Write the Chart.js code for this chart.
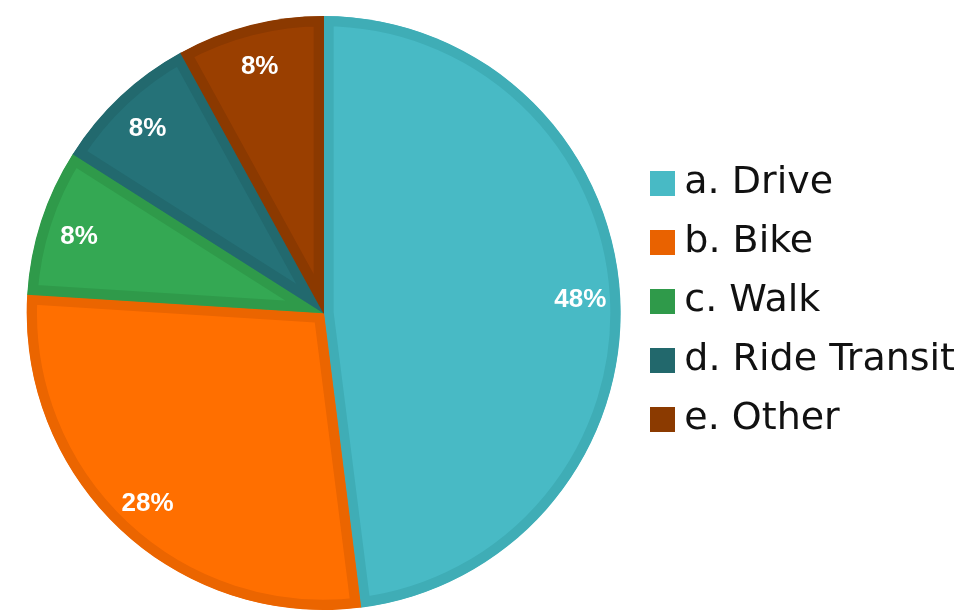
<!DOCTYPE html>
<html>
<head>
<meta charset="utf-8">
<script src="https://cdn.jsdelivr.net/npm/chart.js@4.4.1/dist/chart.umd.min.js"></script>
<style>
  html, body { margin: 0; padding: 0; background: #fff; }
  #wrap { width: 963px; height: 612px; position: relative; }
</style>
</head>
<body>
<div id="wrap"><canvas id="modeChart"></canvas></div>
<script>
// categories and values (percent)
const categories = ['a. Drive', 'b. Bike', 'c. Walk', 'd. Ride Transit', 'e. Other'];
const shares = [48, 28, 8, 8, 8];

// slice colours
const fillColors = ['#48BAC5', '#FF6F00', '#34A853', '#257278', '#9A3F00'];
const edgeColors = ['#3FADB6', '#EB6500', '#2F9A4A', '#22696E', '#8B3900'];
const legendColors = ['#48BAC5', '#E96200', '#2F9A4A', '#22686C', '#8B3A00'];

// square swatch for the legend (drawn as a point style image)
function swatch(color) {
  const c = document.createElement('canvas');
  c.width = 25;
  c.height = 25;
  const g = c.getContext('2d');
  g.fillStyle = color;
  g.fillRect(0, 0, 25, 25);
  return c;
}

// percent labels inside the slices
const sliceLabels = {
  id: 'sliceLabels',
  afterDatasetsDraw(chart) {
    const { ctx } = chart;
    const meta = chart.getDatasetMeta(0);
    const total = shares.reduce((a, b) => a + b, 0);
    ctx.save();
    ctx.fillStyle = '#fff';
    ctx.font = 'bold 26px "Liberation Sans", Arial, sans-serif';
    ctx.textAlign = 'center';
    ctx.textBaseline = 'middle';
    meta.data.forEach((arc, i) => {
      const p = arc.getProps(['x', 'y', 'startAngle', 'endAngle', 'outerRadius'], true);
      const mid = (p.startAngle + p.endAngle) / 2;
      const r = p.outerRadius * 0.866;
      const pct = Math.round(shares[i] / total * 100) + '%';
      ctx.fillText(pct, p.x + Math.cos(mid) * r, p.y + Math.sin(mid) * r + 3);
    });
    ctx.restore();
  }
};

new Chart(document.getElementById('modeChart'), {
  type: 'pie',
  data: {
    labels: categories,
    datasets: [{
      data: shares,
      backgroundColor: fillColors,
      borderColor: edgeColors,
      borderWidth: 10,
      borderAlign: 'inner'
    }]
  },
  options: {
    responsive: true,
    maintainAspectRatio: false,
    animation: false,
    events: [],
    layout: { padding: { left: 8, right: -2, top: 16, bottom: 2 } },
    plugins: {
      tooltip: { enabled: false },
      legend: {
        position: 'right',
        align: 'start',
        title: { display: true, text: '', font: { size: 10 }, padding: { top: 115, bottom: 0 } },
        labels: {
          usePointStyle: true,
          pointStyleWidth: 5,
          boxHeight: 25,
          padding: 21,
          color: '#111',
          font: { family: '"DejaVu Sans", sans-serif', size: 38 },
          generateLabels(chart) {
            return categories.map((text, i) => ({
              text,
              fillStyle: legendColors[i],
              strokeStyle: legendColors[i],
              fontColor: '#111',
              pointStyle: swatch(legendColors[i]),
              lineWidth: 0,
              hidden: false,
              index: i
            }));
          }
        }
      }
    }
  },
  plugins: [sliceLabels]
});
</script>
</body>
</html>
